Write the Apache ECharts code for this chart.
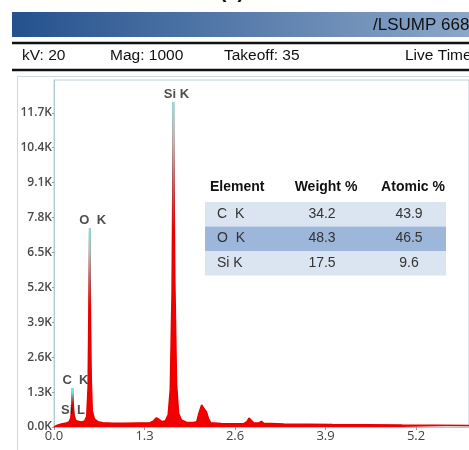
<!DOCTYPE html>
<html>
<head>
<meta charset="utf-8">
<script src="https://cdn.jsdelivr.net/npm/echarts@6/dist/echarts.min.js"></script>
<style>
  html, body { margin: 0; padding: 0; background: #fff; }
  #main { width: 469px; height: 450px; }
</style>
</head>
<body>
<div id="main"></div>
<script>
// spectrum (keV, counts)
const energy = [0.00, 0.04, 0.08, 0.12, 0.18, 0.22, 0.24, 0.255, 0.265, 0.275, 0.29, 0.31, 0.34, 0.40, 0.44, 0.47, 0.49, 0.50, 0.513, 0.525, 0.535, 0.55, 0.58, 0.63, 0.70, 0.85, 1.00, 1.20, 1.38, 1.43, 1.47, 1.51, 1.55, 1.60, 1.64, 1.67, 1.695, 1.715, 1.735, 1.76, 1.79, 1.83, 1.90, 2.00, 2.05, 2.08, 2.12, 2.15, 2.19, 2.22, 2.25, 2.40, 2.72, 2.77, 2.80, 2.84, 2.87, 2.94, 2.98, 3.01, 3.30, 4.00, 5.00, 5.96]
const counts = [0, 60, 90, 120, 150, 200, 320, 650, 1450, 900, 420, 260, 210, 190, 220, 400, 1500, 4200, 7400, 3800, 1800, 600, 300, 200, 160, 140, 140, 150, 160, 230, 340, 280, 200, 230, 450, 1400, 5000, 12100, 5500, 1600, 500, 260, 180, 170, 200, 500, 820, 700, 560, 300, 160, 130, 120, 200, 330, 230, 150, 150, 210, 140, 110, 90, 70, 60]

const peakNames = ['Si K', 'O  K', 'C  K', 'Si L']
const peakEnergy = [1.715, 0.513, 0.265, 0.10]
const peakTop = [12100, 7400, 1450, 330]

const elements = ['C  K', 'O  K', 'Si K']
const weightPct = ['34.2', '48.3', '17.5']
const atomicPct = ['43.9', '46.5', '9.6']

const infoItems = ['kV: 20', 'Mag: 1000', 'Takeoff: 35', 'Live Time:']
const infoX = [22, 110, 224, 405]

const chart = echarts.init(document.getElementById('main'))

const spectrum = energy.map((e, i) => [e, counts[i]])

// table drawn as graphic elements
const tableGraphic = []
const colX = [217, 326, 413]
const headFont = 'bold 14px "Liberation Sans"'
const cellFont = '14px "Liberation Sans"'
tableGraphic.push({ type: 'text', x: 210, y: 187, style: { text: 'Element', font: headFont, fill: '#111', verticalAlign: 'middle' } })
tableGraphic.push({ type: 'text', x: colX[1], y: 187, style: { text: 'Weight %', font: headFont, fill: '#111', align: 'center', verticalAlign: 'middle' } })
tableGraphic.push({ type: 'text', x: colX[2], y: 187, style: { text: 'Atomic %', font: headFont, fill: '#111', align: 'center', verticalAlign: 'middle' } })
elements.forEach((el, i) => {
  const y = 202 + i * 24.5
  tableGraphic.push({ type: 'rect', shape: { x: 205, y: y, width: 241, height: 24.5 }, style: { fill: i === 1 ? '#9db7da' : '#dbe4f1' } })
  tableGraphic.push({ type: 'text', x: colX[0], y: y + 12, style: { text: el, font: cellFont, fill: '#333', verticalAlign: 'middle' } })
  tableGraphic.push({ type: 'text', x: colX[1] - 4, y: y + 12, style: { text: weightPct[i], font: cellFont, fill: '#333', align: 'center', verticalAlign: 'middle' } })
  tableGraphic.push({ type: 'text', x: colX[2] - 4, y: y + 12, style: { text: atomicPct[i], font: cellFont, fill: '#333', align: 'center', verticalAlign: 'middle' } })
})

const option = {
  backgroundColor: '#fff',
  animation: false,
  grid: {
    left: 54,
    right: -3,
    top: 80,
    bottom: 23,
    show: true,
    borderColor: '#b9d0d6',
    borderWidth: 1
  },
  xAxis: {
    type: 'value',
    min: 0,
    max: 5.96,
    interval: 1.3,
    axisLine: { lineStyle: { color: '#b0cad2' } },
    axisTick: { length: 3, lineStyle: { color: '#999' } },
    axisLabel: {
      color: '#444',
      fontSize: 13,
      fontFamily: 'Open Sans',
      margin: 3,
      showMaxLabel: false,
      formatter: v => v.toFixed(1)
    },
    splitLine: { show: false }
  },
  yAxis: {
    type: 'value',
    min: 0,
    max: 12920,
    interval: 1300,
    axisLine: { show: true, lineStyle: { color: '#b0cad2' } },
    axisTick: { show: true, length: 2, lineStyle: { color: '#999' } },
    axisLabel: {
      color: '#4a4a4a',
      fontSize: 12,
      fontWeight: 600,
      fontFamily: 'Open Sans',
      margin: 2,
      showMaxLabel: false,
      formatter: v => (v / 1000).toFixed(1) + 'K'
    },
    splitLine: { show: false }
  },
  series: [
    {
      type: 'line',
      data: spectrum,
      symbol: 'none',
      smooth: false,
      lineStyle: { color: '#e80000', width: 1.5 },
      areaStyle: { color: '#f20000', opacity: 1 },
      z: 2
    },
    {
      type: 'custom',
      data: peakEnergy.slice(0, 3).map((e, i) => [e, peakTop[i]]),
      renderItem(params, api) {
        const top = api.coord([api.value(0), api.value(1)])
        const bot = api.coord([api.value(0), api.value(1) * 0.6])
        return {
          type: 'line',
          shape: { x1: top[0], y1: top[1], x2: bot[0], y2: bot[1] },
          style: {
            stroke: new echarts.graphic.LinearGradient(top[0], top[1], bot[0], bot[1], [
              { offset: 0, color: '#5ef2f2' },
              { offset: 0.3, color: '#7fd8d8' },
              { offset: 0.65, color: '#8a7a7a' },
              { offset: 1, color: '#e80000' }
            ], true),
            lineWidth: 2
          }
        }
      },
      z: 3
    },
    {
      type: 'scatter',
      data: peakEnergy.map((e, i) => ({
        value: [e, peakTop[i]],
        label: { offset: i === 3 ? [12, 0] : [3, 0] }
      })),
      symbolSize: 0,
      label: {
        show: true,
        position: 'top',
        distance: 1,
        formatter: p => peakNames[p.dataIndex],
        color: '#222',
        fontSize: 13,
        fontWeight: 'bold',
        fontFamily: 'Liberation Sans'
      },
      z: 4
    }
  ],
  graphic: [
    { type: 'text', x: 232, y: -18, style: { text: '(a)', font: 'bold 20px "Liberation Sans"', fill: '#111', align: 'center' } },
    {
      type: 'rect',
      shape: { x: 12, y: 12, width: 470, height: 25 },
      style: {
        fill: new echarts.graphic.LinearGradient(0, 0, 1, 0, [
          { offset: 0, color: '#24518d' },
          { offset: 1, color: '#8ea9cb' }
        ])
      }
    },
    { type: 'text', x: 373, y: 25, style: { text: '/LSUMP 668', font: '17px "Liberation Sans"', fill: '#111', verticalAlign: 'middle' } },
    { type: 'line', shape: { x1: 12, y1: 43, x2: 469, y2: 43 }, style: { stroke: '#111', lineWidth: 2.5 } },
    ...infoItems.map((t, i) => ({ type: 'text', x: infoX[i], y: 56, style: { text: t, font: '15.5px "Liberation Sans"', fill: '#111', verticalAlign: 'middle' } })),
    { type: 'line', shape: { x1: 12, y1: 70, x2: 469, y2: 70 }, style: { stroke: '#111', lineWidth: 2.5 } },
    { type: 'rect', shape: { x: 17.5, y: 76.5, width: 470, height: 400 }, style: { fill: 'none', stroke: '#ccdadf', lineWidth: 1 } },
    ...tableGraphic
  ]
}

chart.setOption(option)
</script>
</body>
</html>
